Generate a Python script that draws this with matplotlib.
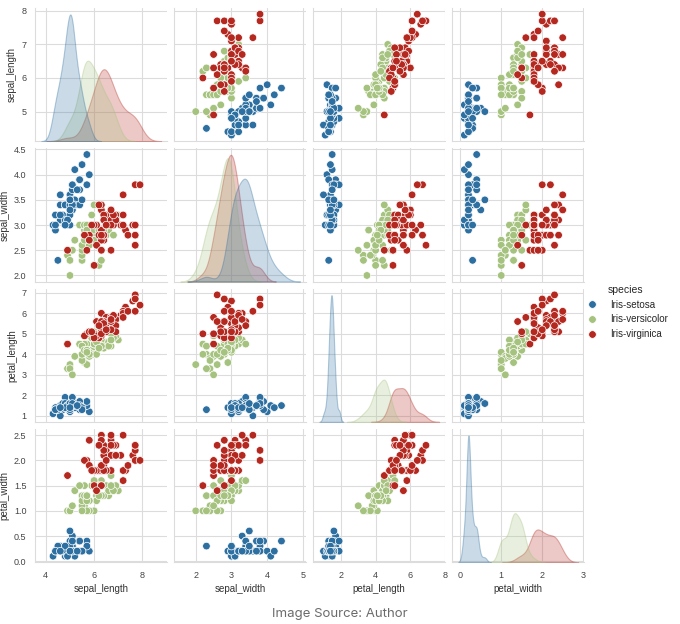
import numpy as np
import pandas as pd
import matplotlib
matplotlib.use("Agg")
import matplotlib.pyplot as plt
from matplotlib.colors import to_rgba
import seaborn as sns

# iris data, columns read as lists (setosa, versicolor, virginica; 50 each)
sepal_length = [
    5.1, 4.9, 4.7, 4.6, 5.0, 5.4, 4.6, 5.0, 4.4, 4.9, 5.4, 4.8, 4.8, 4.3, 5.8, 5.7, 5.4, 5.1, 5.7, 5.1,
    5.4, 5.1, 4.6, 5.1, 4.8, 5.0, 5.0, 5.2, 5.2, 4.7, 4.8, 5.4, 5.2, 5.5, 4.9, 5.0, 5.5, 4.9, 4.4, 5.1,
    5.0, 4.5, 4.4, 5.0, 5.1, 4.8, 5.1, 4.6, 5.3, 5.0,
    7.0, 6.4, 6.9, 5.5, 6.5, 5.7, 6.3, 4.9, 6.6, 5.2, 5.0, 5.9, 6.0, 6.1, 5.6, 6.7, 5.6, 5.8, 6.2, 5.6,
    5.9, 6.1, 6.3, 6.1, 6.4, 6.6, 6.8, 6.7, 6.0, 5.7, 5.5, 5.5, 5.8, 6.0, 5.4, 6.0, 6.7, 6.3, 5.6, 5.5,
    5.5, 6.1, 5.8, 5.0, 5.6, 5.7, 5.7, 6.2, 5.1, 5.7,
    6.3, 5.8, 7.1, 6.3, 6.5, 7.6, 4.9, 7.3, 6.7, 7.2, 6.5, 6.4, 6.8, 5.7, 5.8, 6.4, 6.5, 7.7, 7.7, 6.0,
    6.9, 5.6, 7.7, 6.3, 6.7, 7.2, 6.2, 6.1, 6.4, 7.2, 7.4, 7.9, 6.4, 6.3, 6.1, 7.7, 6.3, 6.4, 6.0, 6.9,
    6.7, 6.9, 5.8, 6.8, 6.7, 6.7, 6.3, 6.5, 6.2, 5.9,
]
sepal_width = [
    3.5, 3.0, 3.2, 3.1, 3.6, 3.9, 3.4, 3.4, 2.9, 3.1, 3.7, 3.4, 3.0, 3.0, 4.0, 4.4, 3.9, 3.5, 3.8, 3.8,
    3.4, 3.7, 3.6, 3.3, 3.4, 3.0, 3.4, 3.5, 3.4, 3.2, 3.1, 3.4, 4.1, 4.2, 3.1, 3.2, 3.5, 3.1, 3.0, 3.4,
    3.5, 2.3, 3.2, 3.5, 3.8, 3.0, 3.8, 3.2, 3.7, 3.3,
    3.2, 3.2, 3.1, 2.3, 2.8, 2.8, 3.3, 2.4, 2.9, 2.7, 2.0, 3.0, 2.2, 2.9, 2.9, 3.1, 3.0, 2.7, 2.2, 2.5,
    3.2, 2.8, 2.5, 2.8, 2.9, 3.0, 2.8, 3.0, 2.9, 2.6, 2.4, 2.4, 2.7, 2.7, 3.0, 3.4, 3.1, 2.3, 3.0, 2.5,
    2.6, 3.0, 2.6, 2.3, 2.7, 3.0, 2.9, 2.9, 2.5, 2.8,
    3.3, 2.7, 3.0, 2.9, 3.0, 3.0, 2.5, 2.9, 2.5, 3.6, 3.2, 2.7, 3.0, 2.5, 2.8, 3.2, 3.0, 3.8, 2.6, 2.2,
    3.2, 2.8, 2.8, 2.7, 3.3, 3.2, 2.8, 3.0, 2.8, 3.0, 2.8, 3.8, 2.8, 2.8, 2.6, 3.0, 3.4, 3.1, 3.0, 3.1,
    3.1, 3.1, 2.7, 3.2, 3.3, 3.0, 2.5, 3.0, 3.4, 3.0,
]
petal_length = [
    1.4, 1.4, 1.3, 1.5, 1.4, 1.7, 1.4, 1.5, 1.4, 1.5, 1.5, 1.6, 1.4, 1.1, 1.2, 1.5, 1.3, 1.4, 1.7, 1.5,
    1.7, 1.5, 1.0, 1.7, 1.9, 1.6, 1.6, 1.5, 1.4, 1.6, 1.6, 1.5, 1.5, 1.4, 1.5, 1.2, 1.3, 1.5, 1.3, 1.5,
    1.3, 1.3, 1.3, 1.6, 1.9, 1.4, 1.6, 1.4, 1.5, 1.4,
    4.7, 4.5, 4.9, 4.0, 4.6, 4.5, 4.7, 3.3, 4.6, 3.9, 3.5, 4.2, 4.0, 4.7, 3.6, 4.4, 4.5, 4.1, 4.5, 3.9,
    4.8, 4.0, 4.9, 4.7, 4.3, 4.4, 4.8, 5.0, 4.5, 3.5, 3.8, 3.7, 3.9, 5.1, 4.5, 4.5, 4.7, 4.4, 4.1, 4.0,
    4.4, 4.6, 4.0, 3.3, 4.2, 4.2, 4.2, 4.3, 3.0, 4.1,
    6.0, 5.1, 5.9, 5.6, 5.8, 6.6, 4.5, 6.3, 5.8, 6.1, 5.1, 5.3, 5.5, 5.0, 5.1, 5.3, 5.5, 6.7, 6.9, 5.0,
    5.7, 4.9, 6.7, 4.9, 5.7, 6.0, 4.8, 4.9, 5.6, 5.8, 6.1, 6.4, 5.6, 5.1, 5.6, 6.1, 5.6, 5.5, 4.8, 5.4,
    5.6, 5.1, 5.1, 5.9, 5.7, 5.2, 5.0, 5.2, 5.4, 5.1,
]
petal_width = [
    0.2, 0.2, 0.2, 0.2, 0.2, 0.4, 0.3, 0.2, 0.2, 0.1, 0.2, 0.2, 0.1, 0.1, 0.2, 0.4, 0.4, 0.3, 0.3, 0.3,
    0.2, 0.4, 0.2, 0.5, 0.2, 0.2, 0.4, 0.2, 0.2, 0.2, 0.2, 0.4, 0.1, 0.2, 0.1, 0.2, 0.2, 0.1, 0.2, 0.2,
    0.3, 0.3, 0.2, 0.6, 0.4, 0.3, 0.2, 0.2, 0.2, 0.2,
    1.4, 1.5, 1.5, 1.3, 1.5, 1.3, 1.6, 1.0, 1.3, 1.4, 1.0, 1.5, 1.0, 1.4, 1.3, 1.4, 1.5, 1.0, 1.5, 1.1,
    1.8, 1.3, 1.5, 1.2, 1.3, 1.4, 1.4, 1.7, 1.5, 1.0, 1.1, 1.0, 1.2, 1.6, 1.5, 1.6, 1.5, 1.3, 1.3, 1.3,
    1.2, 1.4, 1.2, 1.0, 1.3, 1.2, 1.3, 1.3, 1.1, 1.3,
    2.5, 1.9, 2.1, 1.8, 2.2, 2.1, 1.7, 1.8, 1.8, 2.5, 2.0, 1.9, 2.1, 2.0, 2.4, 2.3, 1.8, 2.2, 2.3, 1.5,
    2.3, 2.0, 2.0, 1.8, 2.1, 1.8, 1.8, 1.8, 2.1, 1.6, 1.9, 2.0, 2.2, 1.5, 1.4, 2.3, 2.4, 1.8, 1.8, 2.1,
    2.4, 2.3, 1.9, 2.3, 2.5, 2.3, 1.9, 2.0, 2.3, 1.8,
]
species_names = ["Iris-setosa", "Iris-versicolor", "Iris-virginica"]
species = [name for name in species_names for _ in range(50)]

colors = ["#2d6fa0", "#a5c27e", "#b5281f"]

sns.set_style("whitegrid", {
    "axes.edgecolor": "#dcdcdc",
    "grid.color": "#dcdcdc",
    "axes.labelcolor": "#333333",
    "xtick.color": "#444444",
    "ytick.color": "#444444",
})
plt.rcParams["font.family"] = ["Liberation Sans", "DejaVu Sans"]
plt.rcParams["font.size"] = 7
plt.rcParams["axes.labelsize"] = 7
plt.rcParams["xtick.labelsize"] = 6.5
plt.rcParams["ytick.labelsize"] = 6.5
plt.rcParams["xtick.major.pad"] = 2.5
plt.rcParams["ytick.major.pad"] = 3
plt.rcParams["axes.labelpad"] = 3
plt.rcParams["legend.fontsize"] = 7
plt.rcParams["legend.title_fontsize"] = 7.5

df = pd.DataFrame({
    "sepal_length": sepal_length,
    "sepal_width": sepal_width,
    "petal_length": petal_length,
    "petal_width": petal_width,
    "species": species,
})

g = sns.pairplot(df, hue="species", palette=colors, height=1.5,
                 plot_kws=dict(s=30, edgecolor="white", linewidth=0.5),
                 diag_kws=dict(alpha=0.25, linewidth=0.8))

# faint outline on the density curves, like the fill
for ax in g.diag_axes:
    for coll in ax.collections:
        ec = coll.get_edgecolor()
        if len(ec):
            coll.set_edgecolor(to_rgba(ec[0], 0.35))

fig = g.figure
fig.set_size_inches(6.8, 6.24)
fig.subplots_adjust(left=0.052, right=0.859, top=0.987, bottom=0.099,
                    wspace=0.055, hspace=0.055)
sns.move_legend(g, "center right", bbox_to_anchor=(0.995, 0.5), frameon=False)

fig.text(0.5, 0.016, "Image Source: Author", ha="center", va="center",
         fontsize=9.5, color="#6b6b6b", family=["Inter", "DejaVu Sans"])

fig.savefig("out.png", dpi=100)
